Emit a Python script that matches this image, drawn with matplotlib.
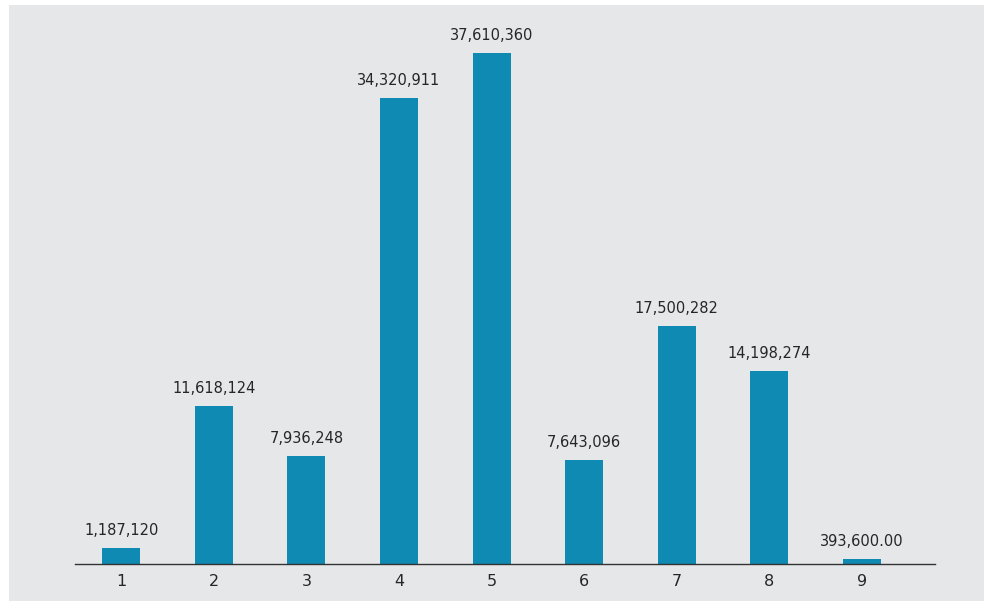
import matplotlib
matplotlib.use('Agg')
import matplotlib.pyplot as plt
from matplotlib.patches import Rectangle

# Datos
categorias = ['1', '2', '3', '4', '5', '6', '7', '8', '9']
valores = [1187120, 11618124, 7936248, 34320911, 37610360, 7643096, 17500282, 14198274, 393600]
etiquetas = ['1,187,120', '11,618,124', '7,936,248', '34,320,911', '37,610,360',
             '7,643,096', '17,500,282', '14,198,274', '393,600.00']

plt.rcParams['font.family'] = ['DejaVu Sans']

fig = plt.figure(figsize=(9.93, 6.06), dpi=100, facecolor='white')
fondo = '#e6e7e9'
fig.patches.append(Rectangle((9 / 993, 5 / 606), 975 / 993, 596 / 606,
                             transform=fig.transFigure, facecolor=fondo,
                             edgecolor='none', zorder=-10))

ax = fig.add_axes([75 / 993, 42 / 606, 860 / 993, 544 / 606])
ax.set_facecolor('none')

x = list(range(1, len(valores) + 1))
ax.bar(x, valores, width=0.41, color='#0e8ab3', zorder=2)

for xi, v, t in zip(x, valores, etiquetas):
    ax.annotate(t, (xi, v), xytext=(0, 7), textcoords='offset points',
                ha='center', va='bottom', fontsize=10.5, color='#262626')

ax.set_xlim(0.5, 9.79)
ax.set_ylim(0, 40.03e6)
ax.set_xticks(x)
ax.set_xticklabels(categorias, fontsize=11.5, color='#262626')
ax.tick_params(axis='x', length=0, pad=7)
ax.set_yticks([])

for s in ['top', 'right', 'left']:
    ax.spines[s].set_visible(False)
ax.spines['bottom'].set_color('#333333')
ax.spines['bottom'].set_linewidth(1.0)

fig.savefig('out.png', dpi=100, facecolor='white')
